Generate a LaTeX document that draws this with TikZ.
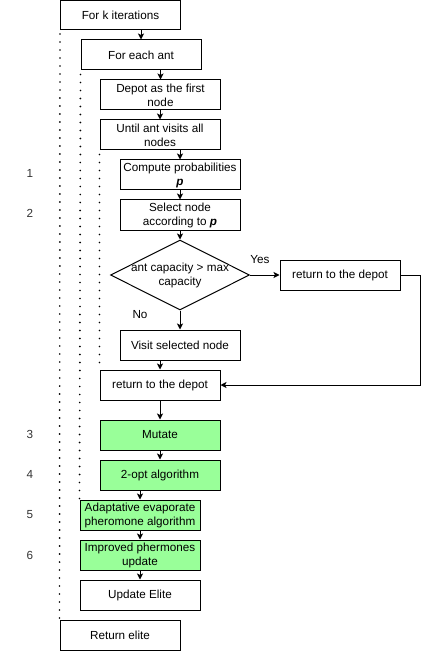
\documentclass[tikz,border=0pt]{standalone}
\usepackage{fontspec}
\setmainfont{Liberation Sans}
\usetikzlibrary{shapes.geometric,arrows.meta}
\definecolor{stepgreen}{RGB}{153,255,153}
\definecolor{numgray}{RGB}{51,51,51}
\begin{document}
\begin{tikzpicture}[x=1pt,y=-1pt,
  txt/.style={font=\fontsize{11.7}{14}\selectfont,align=center,inner sep=0pt},
  box/.style={txt,draw,line width=1pt,minimum width=120pt,minimum height=30pt},
  greenbox/.style={box,fill=stepgreen},
  arr/.style={line width=1pt,-{Stealth[length=6pt,width=6pt,inset=1.5pt]}},
  loopline/.style={line width=1.9pt,line cap=round,dash pattern=on 0pt off 8pt},
  stepnum/.style={font=\fontsize{11.7}{14}\selectfont,text=numgray,inner sep=0pt}
]
\useasboundingbox (0,0) rectangle (429,652);

% main flow
\node[box,minimum height=29pt] (iter) at (120.5,15) {For k iterations};
\node[box] (ant) at (141,55) {For each ant};
\node[box] (depot) at (160.5,95) {Depot as the first\\node};
\node[box] (until) at (160,135) {Until ant visits all\\nodes};
\node[box] (prob) at (180,175) {Compute probabilities\\\textbf{\textit{p}}};
\node[box] (select) at (180,215) {Select node\\according to \textbf{\textit{p}}};
\node[draw,line width=1pt,shape=diamond,minimum width=139pt,minimum height=70pt,inner sep=0pt] (cap) at (180,275) {};
\node[txt] (captxt) at (cap.center) {ant capacity > max\\capacity};
\node[box] (back) at (340,275) {return to the depot};
\node[box] (visit) at (180,345) {Visit selected node};
\node[box] (ret) at (160,385) {return to the depot};
\node[greenbox] (mutate) at (160,435) {Mutate};
\node[greenbox] (opt) at (160,475) {2-opt algorithm};
\node[greenbox] (evap) at (140,515) {Adaptative evaporate\\pheromone algorithm};
\node[greenbox] (pher) at (140,555) {Improved phermones\\update};
\node[box] (elite) at (140,595) {Update Elite};
\node[box] (result) at (120,635) {Return elite};

% step numbers
\node[stepnum] (n1) at (30,173) {1};
\node[stepnum] (n2) at (30,213) {2};
\node[stepnum] (n3) at (30,434) {3};
\node[stepnum] (n4) at (30,474) {4};
\node[stepnum] (n5) at (30,515) {5};
\node[stepnum] (n6) at (30,555) {6};

% loop scopes
\draw[loopline] ([yshift=-4pt]iter.south west) -- (result.north west);
\draw[loopline] ([yshift=-4pt]ant.south west) -- (evap.north west);
\draw[loopline] ([yshift=-4pt]until.south west) -- (ret.north west);

% connectors
\draw[arr] (iter.south -| ant) -- (ant.north);
\draw[arr] (ant.south -| depot) -- (depot.north);
\draw[arr] (depot.south -| until) -- (until.north);
\draw[arr] (until.south -| prob) -- (prob.north);
\draw[arr] (prob.south) -- (select.north);
\draw[arr] (select.south) -- (cap.north);
\draw[arr] (cap.east) -- (back.west);
\node[txt] (yes) at (260,260) {Yes};
\draw[arr] (cap.south) -- (visit.north);
\node[txt] (no) at (140,315) {No};
\coordinate (turn) at (420,275);
\draw[arr] (back.east) -- (turn) |- (ret.east);
\draw[arr] (visit.south -| ret) -- (ret.north);
\draw[arr] (ret.south) -- (mutate.north);
\draw[arr] (mutate.south) -- (opt.north);
\draw[arr] (opt.south -| evap) -- (evap.north);
\draw[arr] (evap.south) -- (pher.north);
\draw[arr] (pher.south) -- (elite.north);
\end{tikzpicture}
\end{document}
